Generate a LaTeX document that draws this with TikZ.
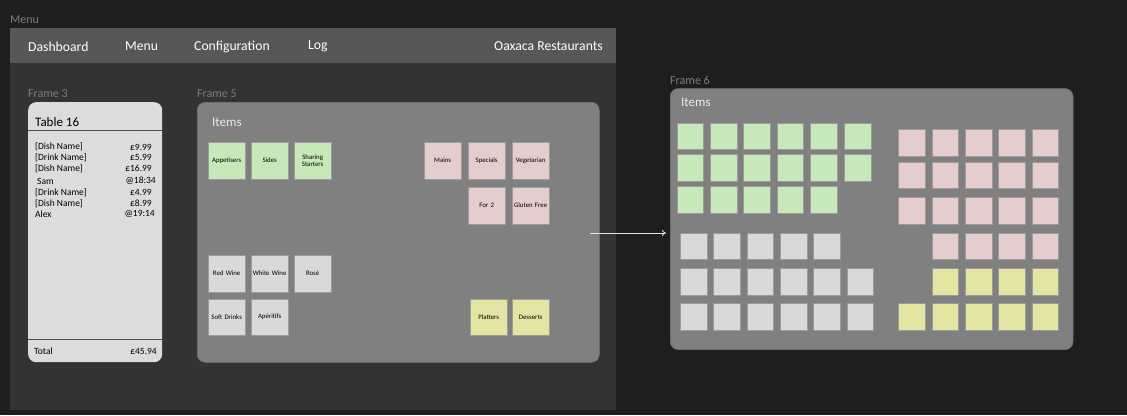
\documentclass[tikz,border=0pt]{standalone}
\usepackage{fontspec}
\setmainfont{Carlito}
\usetikzlibrary{arrows.meta}
\definecolor{bgc}{HTML}{1E1E1E}
\definecolor{menubg}{HTML}{333333}
\definecolor{navbg}{HTML}{575757}
\definecolor{cardlight}{HTML}{DCDCDC}
\definecolor{cardgray}{HTML}{808080}
\definecolor{lblc}{HTML}{7E7E7E}
\definecolor{tgreen}{HTML}{C7E8B9}
\definecolor{tpink}{HTML}{E6CDCD}
\definecolor{tgray}{HTML}{D9D9D9}
\definecolor{tyellow}{HTML}{E4E5A3}
\definecolor{tborder}{HTML}{9C9C9C}
\tikzset{
  framelbl/.style={anchor=west, text=lblc, font=\fontsize{12}{13}\selectfont, inner sep=0},
  navtxt/.style={anchor=west, text=white, font=\fontsize{13.7}{15}\selectfont, inner sep=0},
  card/.style={anchor=north west, rounded corners=8pt, inner sep=0},
  tile/.style={anchor=north west, draw=tborder, line width=0.8pt, minimum width=36.5pt, minimum height=36.5pt, inner sep=0, align=center, text width=36pt, font=\fontsize{6.8}{7.5}\selectfont, text=black},
  mtile/.style={anchor=north west, draw=tborder, line width=0.6pt, minimum width=26.7pt, minimum height=26.7pt, inner sep=0},
  rowtxt/.style={inner sep=0, font=\fontsize{9.5}{10}\selectfont, text=black},
}
\begin{document}
\begin{tikzpicture}[x=1pt,y=-1pt]
\useasboundingbox (0,0) rectangle (1127,415);
\fill[bgc] (0,0) rectangle (1127,415);
% Menu frame
\node[framelbl] (menulbl) at (10,20) {Menu};
\node[anchor=north west, fill=menubg, minimum width=606pt, minimum height=382pt, inner sep=0] (menu) at (10,28) {};
\node[anchor=north west, fill=navbg, minimum width=606pt, minimum height=35pt, inner sep=0] (nav) at (10,28) {};
\node[navtxt] (n1) at (28,46.5) {Dashboard};
\node[navtxt] (n2) at (125,46.5) {Menu};
\node[navtxt] (n3) at (194,46.5) {Configuration};
\node[navtxt] (n4) at (308,46.5) {Log};
\node[navtxt, anchor=east] (n5) at (603,46.5) {Oaxaca Restaurants};
% Frame 3
\node[framelbl] (f3lbl) at (28,94) {Frame 3};
\node[card, fill=cardlight, minimum width=134pt, minimum height=260pt] (f3) at (28,102) {};
\node[anchor=west, inner sep=0, font=\fontsize{13}{14}\selectfont, text=black] (t16) at (35,122.5) {Table 16};
\coordinate (l1a) at (28,130.5);
\coordinate (l1b) at (162,130.5);
\draw[color=black!70, line width=0.8pt] (l1a) -- (l1b);
\foreach \i/\y/\nm/\pr in {1/147/{[Dish Name]}/{£9.99},2/157.5/{[Drink Name]}/{£5.99},3/168.3/{[Dish Name]}/{£16.99},5/192.5/{[Drink Name]}/{£4.99},6/203.5/{[Dish Name]}/{£8.99}}{
  \node[rowtxt, anchor=west] (rn\i) at (35,\y) {\nm};
  \node[rowtxt, anchor=east] (rp\i) at (152,\y) {\pr};
}
\node[rowtxt, anchor=west] (rn4) at (37,181) {Sam};
\node[rowtxt, anchor=east] (rp4) at (156,181) {@18:34};
\node[rowtxt, anchor=west] (rn7) at (35,214) {Alex};
\node[rowtxt, anchor=east] (rp7) at (155,214) {@19:14};
\coordinate (l2a) at (28,339.5);
\coordinate (l2b) at (162,339.5);
\draw[color=black!70, line width=0.8pt] (l2a) -- (l2b);
\node[rowtxt, anchor=west] (tot) at (34,351) {Total};
\node[rowtxt, anchor=east] (totv) at (157,351) {£45.94};
% Frame 5
\node[framelbl] (f5lbl) at (197,94) {Frame 5};
\node[card, fill=cardgray, draw=black!55, line width=0.6pt, minimum width=402pt, minimum height=260pt] (f5) at (197,102) {};
\node[anchor=west, inner sep=0, font=\fontsize{13}{14}\selectfont, text=white!92!black] (it5) at (212,122) {Items};
\node[tile, fill=tgreen] (app) at (208,142) {Appetisers};
\node[tile, fill=tgreen] (sides) at (251,142) {Sides};
\node[tile, fill=tgreen] (share) at (294,142) {Sharing\\Starters};
\node[tile, fill=tpink] (mains) at (424,142) {Mains};
\node[tile, fill=tpink] (spec) at (468,142) {Specials};
\node[tile, fill=tpink] (veg) at (512,142) {Vegetarian};
\node[tile, fill=tpink] (for2) at (468,187) {For 2};
\node[tile, fill=tpink] (gf) at (512,187) {Gluten Free};
\node[tile, fill=tgray] (red) at (208,255) {Red Wine};
\node[tile, fill=tgray] (white) at (251,255) {White Wine};
\node[tile, fill=tgray] (rose) at (294,255) {Rosé};
\node[tile, fill=tgray] (soft) at (208,298.5) {Soft Drinks};
\node[tile, fill=tgray] (aper) at (251,298.5) {Apéritifs};
\node[tile, fill=tyellow] (plat) at (470,298.5) {Platters};
\node[tile, fill=tyellow] (dess) at (512,298.5) {Desserts};
% Arrow
\coordinate (arrS) at (590,233);
\coordinate (arrE) at (666,233);
\draw[white!90!black, line width=0.8pt, -{To[length=4pt,width=6pt]}] (arrS) -- (arrE);
% Frame 6
\node[framelbl] (f6lbl) at (670,80) {Frame 6};
\node[card, fill=cardgray, draw=black!55, line width=0.6pt, minimum width=402.7pt, minimum height=261pt] (f6) at (670,88.3) {};
\node[anchor=west, inner sep=0, font=\fontsize{13}{14}\selectfont, text=white!92!black] (it6) at (681,102.5) {Items};
% green
\foreach \c/\x in {1/676.7,2/710,3/743.3,4/776.7,5/810,6/844}{
  \node[mtile, fill=tgreen] (ga\c) at (\x,122.7) {};
  \node[mtile, fill=tgreen] (gb\c) at (\x,154.3) {};
}
\foreach \c/\x in {1/676.7,2/710,3/743.3,4/776.7,5/810}{
  \node[mtile, fill=tgreen] (gc\c) at (\x,186) {};
}
% gray
\foreach \c/\x in {1/680,2/713.3,3/746.7,4/780,5/813.3}{
  \node[mtile, fill=tgray] (ya\c) at (\x,232.7) {};
}
\foreach \c/\x in {1/680,2/713.3,3/746.7,4/780,5/813.3,6/846.7}{
  \node[mtile, fill=tgray] (yb\c) at (\x,268) {};
  \node[mtile, fill=tgray] (yc\c) at (\x,303.3) {};
}
% pink
\foreach \c/\x in {1/898.3,2/931.7,3/965,4/998.3,5/1031.7}{
  \node[mtile, fill=tpink] (pa\c) at (\x,129.3) {};
  \node[mtile, fill=tpink] (pb\c) at (\x,161.7) {};
  \node[mtile, fill=tpink] (pc\c) at (\x,197) {};
  \node[mtile, fill=tyellow] (wb\c) at (\x,303.3) {};
}
\foreach \c/\x in {2/931.7,3/965,4/998.3,5/1031.7}{
  \node[mtile, fill=tpink] (pd\c) at (\x,232.7) {};
  \node[mtile, fill=tyellow] (wa\c) at (\x,268) {};
}
\end{tikzpicture}
\end{document}
